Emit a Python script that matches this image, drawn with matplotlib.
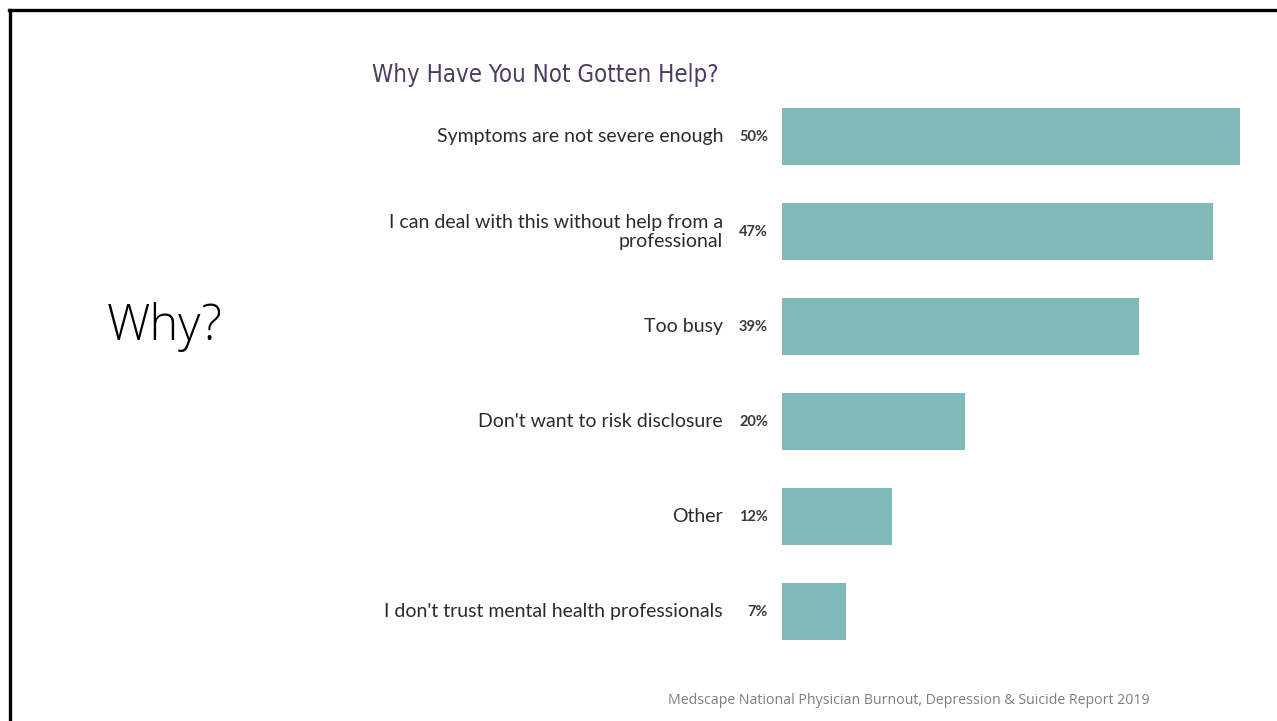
import matplotlib
matplotlib.use("Agg")
import matplotlib.pyplot as plt
from matplotlib.lines import Line2D

# Survey responses
reasons = [
    "Symptoms are not severe enough",
    "I can deal with this without help from a\nprofessional",
    "Too busy",
    "Don't want to risk disclosure",
    "Other",
    "I don't trust mental health professionals",
]
percents = [50, 47, 39, 20, 12, 7]

title = "Why Have You Not Gotten Help?"
side_text = "Why?"
source = "Medscape National Physician Burnout, Depression & Suicide Report 2019"

W, H = 1277, 721
fig = plt.figure(figsize=(W / 100, H / 100), dpi=100)
fig.patch.set_facecolor("white")

# slide frame (left and top edges)
fig.add_artist(Line2D([9.5 / W, 9.5 / W], [0, 1 - 10 / H], color="black", lw=2.4,
                      transform=fig.transFigure))
fig.add_artist(Line2D([8.5 / W, 1], [1 - 10 / H, 1 - 10 / H], color="black", lw=2.4,
                      transform=fig.transFigure))

# bar area
left, right = 782, 1240
top, bottom = 89.5, 659
ax = fig.add_axes([left / W, 1 - bottom / H, (right - left) / W, (bottom - top) / H])
ax.set_xlim(0, 50)
ax.set_ylim(len(reasons) - 0.5, -0.5)
ax.axis("off")

ypos = list(range(len(reasons)))
ax.barh(ypos, percents, height=0.6, color="#7fbab8", clip_on=False)

for y, lab, p in zip(ypos, reasons, percents):
    ax.annotate(f"{p}%", xy=(0, y), xytext=(-14, 0), textcoords="offset pixels",
                ha="right", va="center", fontsize=10.5, fontweight="bold",
                color="#3a3a3a", family="Lato")
    ax.annotate(lab, xy=(0, y), xytext=(-59, 0), textcoords="offset pixels",
                ha="right", va="center", fontsize=14, color="#2b2b2b",
                family="Lato", linespacing=1.12, multialignment="right")

fig.text(372 / W, 1 - 75 / H, title, ha="left", va="center", fontsize=17.2,
         color="#4e3d63", family="DejaVu Sans", fontstretch="condensed")

fig.text(107 / W, 1 - 327 / H, side_text, ha="left", va="center", fontsize=35,
         color="black", family="Open Sans", fontweight="light")

fig.text(668 / W, 1 - 700 / H, source, ha="left", va="center", fontsize=10.15,
         color="#7f7f7f", family="Open Sans")

fig.savefig("out.png", dpi=100, facecolor="white")
